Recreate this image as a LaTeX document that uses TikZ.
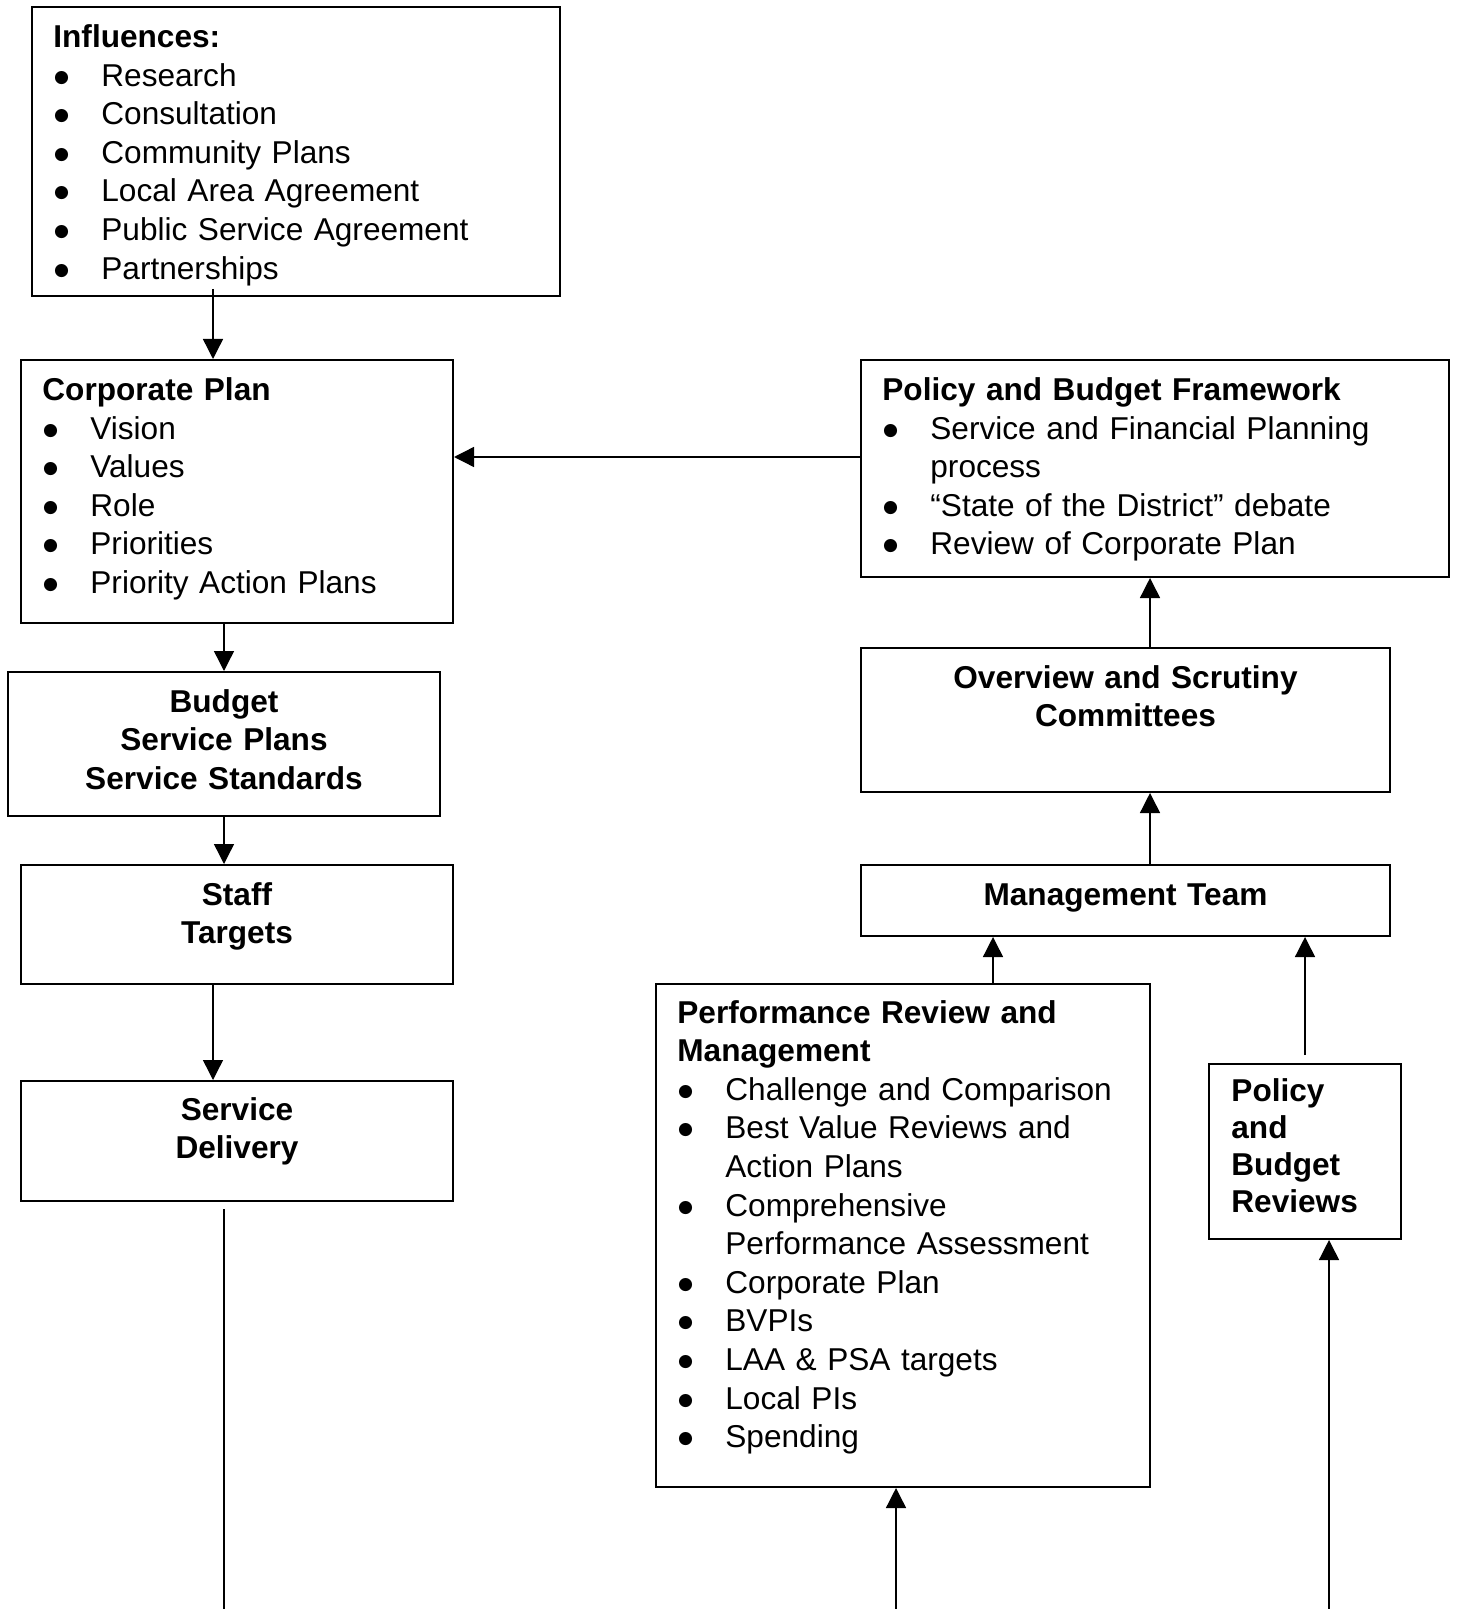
\documentclass[tikz,border=0pt]{standalone}
\usepackage{fontspec}
\setmainfont{Liberation Sans}
\newfontfamily\dotfont{DejaVu Sans}
\usepackage{tikz}
\usetikzlibrary{
  arrows.meta,
  positioning,
  calc,
  fit}

\newcommand{\bitem}[1]{\par\hangindent=24pt\hangafter=1\noindent\makebox[24pt][l]{\hspace{0.4pt}\raisebox{2pt}{\dotfont\fontsize{8.6}{8.6}\selectfont ●}}#1}

\tikzset{frame/.style={draw, line width=1pt, inner sep=0pt},
         txt/.style={anchor=base west, inner sep=0pt, text width=270pt, align=left,
                      font=\fontsize{15.8}{19.3}\selectfont},
         ctxt/.style={anchor=base, inner sep=0pt, text width=250pt, align=center,
                      font=\fontsize{15.8}{19.3}\selectfont\bfseries},
         arr/.style={line width=0.7pt, -{Triangle[length=10pt,width=10pt]}}
        }

\begin{document}
\begin{tikzpicture}[x=0.5pt, y=-0.5pt]
\useasboundingbox (0,0) rectangle (1457,1609);

%Left column
\node[frame, fit={(32,7) (560,296)}] (infl) {};
\node[txt] (infltxt) at (53,47.5) {\textbf{Influences:}
  \bitem{Research}
  \bitem{Consultation}
  \bitem{Community Plans}
  \bitem{Local Area Agreement}
  \bitem{Public Service Agreement}
  \bitem{Partnerships}};

\node[frame, fit={(21,360) (453,623)}] (corp) {};
\node[txt] (corptxt) at (42,400.5) {\textbf{Corporate Plan}
  \bitem{Vision}
  \bitem{Values}
  \bitem{Role}
  \bitem{Priorities}
  \bitem{Priority Action Plans}};

\node[frame, fit={(8,672) (440,816)}] (budget) {};
\node[ctxt] (budgettxt) at (224,712) {Budget\\Service Plans\\Service Standards};

\node[frame, fit={(21,865) (453,984)}] (staff) {};
\node[ctxt] (stafftxt) at (237,905) {Staff\\Targets};

\node[frame, fit={(21,1081) (453,1201)}] (sdel) {};
\node[ctxt] (sdeltxt) at (237,1120) {Service\\Delivery};

%Right column
\node[frame, fit={(861,360) (1449,577)}] (pbf) {};
\node[txt] (pbftxt) at (882,400.5) {\textbf{Policy and Budget Framework}
  \bitem{Service and Financial Planning\newline process}
  \bitem{“State of the District” debate}
  \bitem{Review of Corporate Plan}};

\node[frame, fit={(861,648) (1390,792)}] (ovsc) {};
\node[ctxt] (ovsctxt) at (1125.5,688) {Overview and Scrutiny\\Committees};

\node[frame, fit={(861,865) (1390,936)}] (mgmt) {};
\node[ctxt] (mgmttxt) at (1125.5,905) {Management Team};

\node[frame, fit={(656,984) (1150,1487)}] (perf) {};
\node[txt] (perftxt) at (677,1023) {\textbf{Performance Review and\newline Management}
  \bitem{Challenge and Comparison}
  \bitem{Best Value Reviews and\newline Action Plans}
  \bitem{Comprehensive\newline Performance Assessment}
  \bitem{Corporate Plan}
  \bitem{BVPIs}
  \bitem{LAA \& PSA targets}
  \bitem{Local PIs}
  \bitem{Spending}};

\node[frame, fit={(1209,1064) (1401,1239)}] (pbrev) {};
\node[txt, font=\fontsize{15.8}{18.5}\selectfont\bfseries] (pbrevtxt) at (1231,1101.5) {Policy\\and\\Budget\\Reviews};

%Connectors
\coordinate (sdend) at (224,1609);
\coordinate (perfin) at (896,1609);
\coordinate (pbrin) at (1329,1609);

\draw[arr] ($(infl.south -| 213,0)+(0,-8)$) -- (corp.north -| 213,0);
\draw[arr] (pbf.west |- 0,457) -- (corp.east |- 0,457);
\draw[arr] (corp.south -| 224,0) -- (budget.north -| 224,0);
\draw[arr] (budget.south -| 224,0) -- (staff.north -| 224,0);
\draw[arr] (staff.south -| 213,0) -- (sdel.north -| 213,0);
\draw[line width=0.7pt] ($(sdel.south -| sdend)+(0,7)$) -- (sdend);

\draw[arr] (ovsc.north -| 1150,0) -- (pbf.south -| 1150,0);
\draw[arr] (mgmt.north -| 1150,0) -- (ovsc.south -| 1150,0);
\draw[arr] (perf.north -| 993,0) -- (mgmt.south -| 993,0);
\draw[arr] ($(pbrev.north -| 1305,0)+(0,-8)$) -- (mgmt.south -| 1305,0);
\draw[arr] (perfin) -- (perf.south -| perfin);
\draw[arr] (pbrin) -- (pbrev.south -| pbrin);
\end{tikzpicture}
\end{document}
